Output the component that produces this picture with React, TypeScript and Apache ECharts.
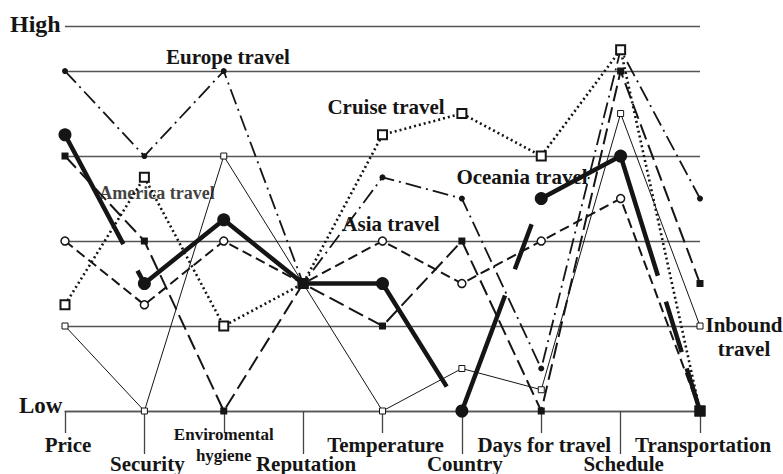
import React, { useEffect, useRef } from "react";
import * as echarts from "echarts";

const categories = [
  "Price",
  "Security",
  "Enviromental hygiene",
  "Reputation",
  "Temperature",
  "Country",
  "Days for travel",
  "Schedule",
  "Transportation",
];

const europeTravel = [4, 3, 4, 1.5, 2.75, 2.5, 0.5, 4.25, 2.5];
const cruiseTravel = [1.25, 2.75, 1, 1.5, 3.25, 3.5, 3, 4.25, 0];
const americaTravel = [3, 2, 0, 1.5, 1, 2, 0, 4, 1.5];
const asiaTravel = [2, 1.25, 2, 1.5, 2, 1.5, 2, 2.5, 0];
const oceaniaTravel = [3.25, 1.5, 2.25, 1.5, 1.5, 0, 2.5, 3, 0];
const inboundTravel = [1, 0, 3, 1.5, 0, 0.5, 0.25, 3.5, 1];

const levelTicks = [0, 1, 2, 3, 4];

const FONT = '"Liberation Serif", "Times New Roman", serif';
const INK = "#151515";

export default function App() {
  const ref = useRef<HTMLDivElement>(null);

  useEffect(() => {
    if (!ref.current) return;
    const chart = echarts.init(ref.current, undefined, { renderer: "svg" });

    const baseLabel = {
      fontFamily: FONT,
      fontWeight: "bold" as const,
      color: INK,
    };

    const txt = (
      text: string,
      x: number,
      y: number,
      size: number,
      align: string = "center",
      fill: string = INK,
      lineHeight?: number
    ) => ({
      type: "text",
      x,
      y,
      silent: true,
      style: {
        text,
        fill,
        fontFamily: FONT,
        fontWeight: "bold",
        fontSize: size,
        lineHeight: lineHeight || size + 2,
        align,
        textAlign: align,
        verticalAlign: "middle",
        textVerticalAlign: "middle",
      },
    });

    const mkSeries = (
      name: string,
      data: number[],
      line: any,
      symbol: string,
      symbolSize: number,
      itemStyle: any,
      z: number
    ) => ({
      name,
      type: "line",
      data,
      symbol,
      symbolSize,
      showSymbol: true,
      silent: true,
      z,
      lineStyle: { color: INK, ...line },
      itemStyle: { ...itemStyle },
      emphasis: { disabled: true },
    });

    const oceaniaData = oceaniaTravel.map((v, i) =>
      i === 3 || i === 8
        ? { value: v, symbol: "rect", symbolSize: 11 }
        : { value: v }
    );

    chart.setOption({
      animation: false,
      backgroundColor: "#fff",
      grid: { left: 65, right: 83, top: 26, bottom: 63 },
      xAxis: [
        {
          type: "category",
          data: categories,
          boundaryGap: false,
          position: "bottom",
          axisLine: { show: true, lineStyle: { color: "#555", width: 1.3 } },
          axisTick: {
            show: true,
            length: 22,
            interval: (i: number) => i % 2 === 0,
            lineStyle: { color: "#444", width: 1.3 },
          },
          axisLabel: {
            ...baseLabel,
            fontSize: 21,
            margin: 23,
            padding: [0, 0, 0, 6],
            interval: (i: number) => i % 2 === 0 && i !== 2,
          },
          splitLine: { show: false },
        },
        {
          type: "category",
          data: categories,
          boundaryGap: false,
          position: "bottom",
          axisLine: { show: false },
          axisTick: {
            show: true,
            length: 43,
            interval: (i: number) => i % 2 === 1,
            lineStyle: { color: "#444", width: 1.3 },
          },
          axisLabel: {
            ...baseLabel,
            fontSize: 21,
            margin: 42,
            padding: [0, 0, 0, 6],
            interval: (i: number) => i % 2 === 1,
          },
          splitLine: { show: false },
        },
        {
          type: "category",
          data: categories,
          boundaryGap: false,
          position: "bottom",
          axisLine: { show: false },
          axisTick: { show: false },
          axisLabel: {
            ...baseLabel,
            fontSize: 17,
            lineHeight: 21,
            margin: 13,
            interval: (i: number) => i === 2,
            formatter: (v: string) => v.replace(" ", "\n"),
          },
          splitLine: { show: false },
        },
      ],
      yAxis: {
        type: "value",
        min: levelTicks[0],
        max: 4.53,
        interval: 1,
        axisLine: { show: false },
        axisTick: { show: false },
        axisLabel: { show: false },
        splitLine: { show: true, lineStyle: { color: "#555", width: 1.3 } },
      },
      graphic: [
        txt("High", 10, 24, 24, "left"),
        txt("Low", 19, 405, 23, "left"),
        txt("Europe travel", 228, 57, 21),
        txt("Cruise travel", 386, 107, 21),
        txt("America travel", 157, 193, 18, "center", "#444"),
        txt("Asia travel", 391, 224, 21),
        txt("Oceania travel", 522, 177, 21),
        txt("Inbound\ntravel", 744, 337, 21, "center", INK, 24),
      ],
      series: [
        mkSeries(
          "Inbound travel",
          inboundTravel,
          { width: 1, type: "solid" },
          "rect",
          6,
          { color: "#fff", borderColor: INK, borderWidth: 1 },
          2
        ),
        mkSeries(
          "Asia travel",
          asiaTravel,
          { width: 2, type: [10, 5] },
          "circle",
          8,
          { color: "#fff", borderColor: INK, borderWidth: 1.5 },
          3
        ),
        mkSeries(
          "America travel",
          americaTravel,
          { width: 2, type: [16, 6] },
          "rect",
          7,
          { color: INK },
          4
        ),
        mkSeries(
          "Europe travel",
          europeTravel,
          { width: 1.8, type: [16, 5, 2, 5] },
          "circle",
          6,
          { color: INK },
          5
        ),
        mkSeries(
          "Cruise travel",
          cruiseTravel,
          { width: 2.6, type: [2, 3] },
          "rect",
          9,
          { color: "#fff", borderColor: INK, borderWidth: 2 },
          6
        ),
        {
          ...mkSeries(
            "Oceania travel",
            oceaniaTravel,
            {
              width: 4.5,
              type: [124, 30, 419, 27, 125, 28, 48, 26, 217, 27, 53, 17, 80],
            },
            "circle",
            13,
            { color: INK },
            7
          ),
          data: oceaniaData,
        },
      ],
    });

    return () => chart.dispose();
  }, []);

  return (
    <div
      ref={ref}
      style={{ position: "absolute", left: 0, top: 0, width: 783, height: 474 }}
    />
  );
}
